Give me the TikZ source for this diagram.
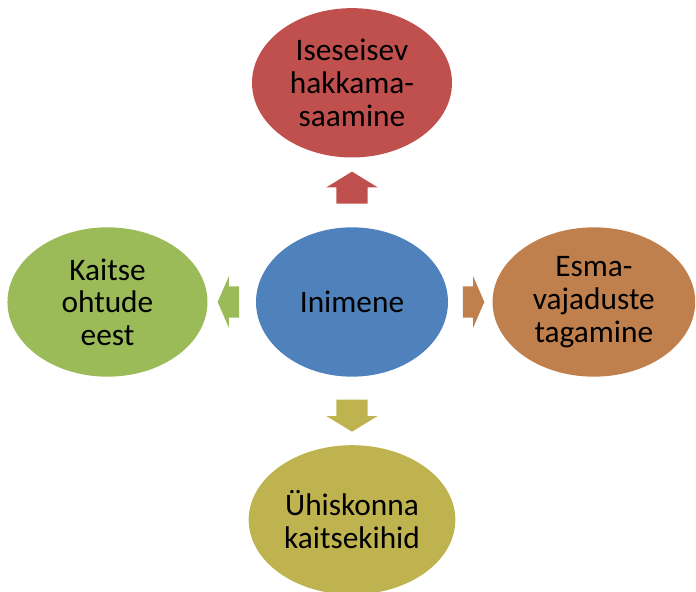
\documentclass[tikz,border=0pt]{standalone}
\usepackage{fontspec}
\setmainfont{Carlito}
\usepackage{tikz}
\usetikzlibrary{positioning,calc,shapes.geometric,shapes.arrows}
\definecolor{cHub}{HTML}{4F81BD}
\definecolor{cSelf}{HTML}{C0504D}
\definecolor{cNeed}{HTML}{C0804D}
\definecolor{cSafe}{HTML}{9BBB59}
\definecolor{cSoc}{HTML}{BFB350}
\tikzset{
  blob/.style={ellipse, draw=none, fill=#1, text=black, align=center, inner sep=0pt,
               minimum width=150pt, minimum height=112pt,
               font=\fontsize{23.5}{24.5}\selectfont},
  push/.style={single arrow, draw=none, fill=#1, inner xsep=0pt, inner ysep=11.5pt,
               minimum width=38pt, single arrow head extend=7.5pt},
  longpush/.style={push=#1, minimum height=24pt, single arrow tip angle=117},
  shortpush/.style={push=#1, minimum height=16pt, single arrow tip angle=133},
}

\begin{document}
\begin{tikzpicture}
  \useasboundingbox (0,0) rectangle (522pt,-444pt);
  \node[blob=cHub, minimum width=144pt] (hub) at (264pt,-226.5pt) {Inimene};
  \node[blob=cSelf, above=52pt of hub] (self) {Iseseisev\\hakkama-\\saamine};
  \node[blob=cNeed, right=33pt of hub, minimum width=152pt] (need) {Esma-\\vajaduste\\tagamine};
  \node[blob=cSafe, left=36pt of hub] (safe) {Kaitse\\ohtude\\eest};
  \node[blob=cSoc, below=51pt of hub, minimum width=155pt] (soc) {Ühiskonna\\kaitsekihid};
  % block arrows half way between the ellipses
  \node[longpush=cSelf, rotate=90] (toSelf) at ($(hub.north)!0.5!(self.south)$) {};
  \node[shortpush=cNeed] (toNeed) at ($(hub.east)!0.5!(need.west)$) {};
  \node[shortpush=cSafe, rotate=180] (toSafe) at ($(hub.west)!0.5!(safe.east)$) {};
  \node[longpush=cSoc, rotate=270] (toSoc) at ($(hub.south)!0.5!(soc.north)$) {};
\end{tikzpicture}
\end{document}
